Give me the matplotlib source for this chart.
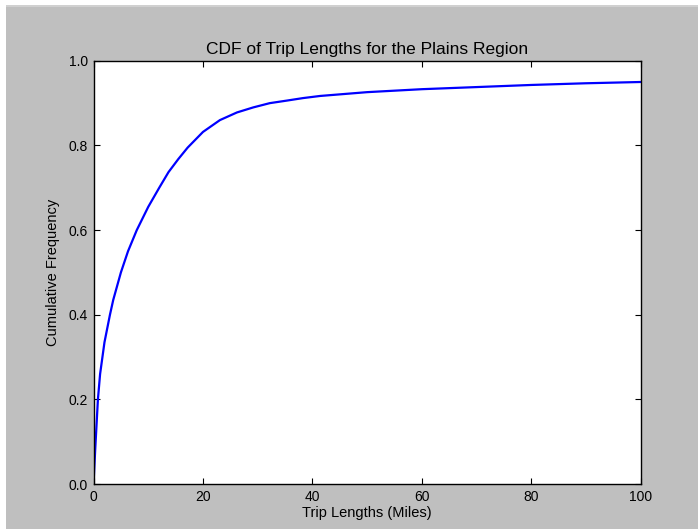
import numpy as np
import matplotlib
matplotlib.use("Agg")
import matplotlib.pyplot as plt
from matplotlib.patches import Rectangle

# trip length (miles) and cumulative frequency
miles = [0, 0.3, 0.8, 1.2, 2.0, 3.0, 3.6, 5.0, 6.3, 7.9, 10.0, 12.0, 13.7,
         15.5, 17.2, 20.0, 23.1, 26.2, 29.2, 32.2, 35.3, 38.3, 41.4, 50, 60,
         70, 80, 90, 100]
cdf = [0.0, 0.08, 0.20, 0.26, 0.335, 0.40, 0.435, 0.50, 0.55, 0.60, 0.655,
       0.70, 0.737, 0.768, 0.795, 0.832, 0.86, 0.878, 0.89, 0.90, 0.906, 0.912,
       0.917, 0.926, 0.933, 0.938, 0.943, 0.947, 0.950]

plt.rcParams['font.family'] = ['Liberation Sans', 'DejaVu Sans']

fig = plt.figure(figsize=(6.98, 5.29), dpi=100, facecolor='#bfbfbf')

# screenshot border: white strip on top and left
fig.patches.append(Rectangle((0, 1 - 5 / 529), 1, 5 / 529, transform=fig.transFigure,
                             facecolor='white', edgecolor='none', zorder=-1))
fig.patches.append(Rectangle((0, 1 - 7 / 529), 1, 2 / 529, transform=fig.transFigure,
                             facecolor='#d0d0d0', edgecolor='none', zorder=-1))
fig.patches.append(Rectangle((0, 0), 6 / 698, 1, transform=fig.transFigure,
                             facecolor='white', edgecolor='none', zorder=-1))

ax = fig.add_axes([0.134, 0.085, 0.784, 0.800])
ax.set_facecolor('white')
ax.plot(miles, cdf, color='#0000ff', linewidth=1.6, solid_joinstyle='round')

ax.set_xlim(0, 100)
ax.set_ylim(0, 1.0)
ax.set_xticks([0, 20, 40, 60, 80, 100])
ax.set_yticks([0.0, 0.2, 0.4, 0.6, 0.8, 1.0])
ax.set_yticklabels(['0.0', '0.2', '0.4', '0.6', '0.8', '1.0'])
ax.tick_params(direction='in', length=4, width=0.8, top=True, right=True,
               labelsize=10, pad=4, colors='black')
for s in ax.spines.values():
    s.set_linewidth(1.0)

ax.set_title("CDF of Trip Lengths for the Plains Region", fontsize=12.5, pad=5)
ax.set_xlabel("Trip Lengths (Miles)", fontsize=10.5, labelpad=2)
ax.set_ylabel("Cumulative Frequency", fontsize=10.5, labelpad=6)

fig.savefig("out.png", dpi=100, facecolor=fig.get_facecolor())
